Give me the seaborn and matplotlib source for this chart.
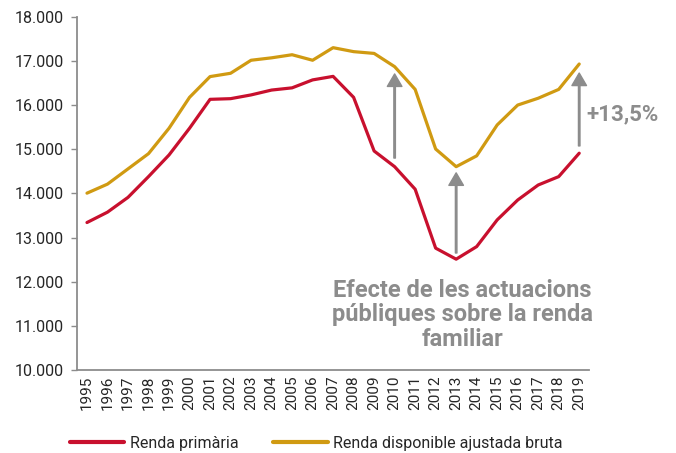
import pandas as pd
import numpy as np
import matplotlib
matplotlib.use('Agg')
import matplotlib.pyplot as plt
import seaborn as sns
from matplotlib.ticker import FuncFormatter, MultipleLocator

sns.set_style('white')
plt.rcParams['font.family'] = ['Roboto', 'DejaVu Sans']

years = list(range(1995, 2020))
renda_primaria = [13340, 13575, 13910, 14380, 14870, 15475, 16130, 16145, 16230, 16340,
                  16390, 16570, 16650, 16175, 14960, 14605, 14095, 12760, 12510, 12795,
                  13400, 13850, 14190, 14380, 14910]
renda_disponible = [14005, 14210, 14555, 14900, 15475, 16175, 16645, 16720, 17015, 17070,
                    17140, 17015, 17300, 17210, 17170, 16870, 16355, 15005, 14605, 14850,
                    15550, 16000, 16155, 16355, 16930]
series_names = ['Renda primària', 'Renda disponible ajustada bruta']
colors = ['#C8102E', '#D09A12']

# arrows: (year, from, to)
arrows = [(2010, 14800, 16705), (2013, 12650, 14465), (2019, 15075, 16725)]

df = pd.DataFrame({
    'any': years * 2,
    'valor': renda_primaria + renda_disponible,
    'serie': [series_names[0]] * len(years) + [series_names[1]] * len(years),
})

fig = plt.figure(figsize=(6.76, 4.53), dpi=100)
ax = fig.add_axes([0.1135, 0.1832, 0.7585, 0.7798])

sns.lineplot(data=df, x='any', y='valor', hue='serie', palette=colors, linewidth=2.3,
             ax=ax, legend=False)

grey = '#8C8C8C'
for x, y0, y1 in arrows:
    ax.annotate('', xy=(x, y1), xytext=(x, y0),
                arrowprops=dict(facecolor=grey, edgecolor=grey, width=1.1,
                                headwidth=10.5, headlength=9, shrink=0))

ax.text(2019.35, 15790, '+13,5%', color=grey, fontsize=16, fontweight='bold',
        ha='left', va='center')
ax.text(2013.3, 11250, 'Efecte de les actuacions\npúbliques sobre la renda\nfamiliar',
        color=grey, fontsize=17, fontweight='bold', ha='center', va='center',
        linespacing=1.08)

ax.set_xlim(1994.5, 2019.5)
ax.set_ylim(10000, 18000)
ax.set_xticks(years)
ax.set_xticklabels([str(y) for y in years], rotation=90)
ax.set_xticks(np.arange(1994.5, 2020, 1), minor=True)
ax.yaxis.set_major_locator(MultipleLocator(1000))
ax.yaxis.set_major_formatter(FuncFormatter(lambda v, p: f'{int(v):,}'.replace(',', '.')))
ax.tick_params(axis='x', which='major', length=0, labelsize=11, colors='#262626', pad=4)
ax.tick_params(axis='x', which='minor', length=5, width=1, color=grey, direction='out')
ax.tick_params(axis='y', length=4, width=1, color=grey, labelsize=11.5, labelcolor='#262626', pad=5,
               direction='out', left=True)
ax.set_xlabel('')
ax.set_ylabel('')
for s in ['top', 'right']:
    ax.spines[s].set_visible(False)
for s in ['left', 'bottom']:
    ax.spines[s].set_color(grey)
    ax.spines[s].set_linewidth(1.3)

handles = [plt.Line2D([], [], color=c, linewidth=3) for c in colors]
fig.legend(handles, series_names, loc='center left', bbox_to_anchor=(0.082, 0.022),
           ncol=2, frameon=False, fontsize=11.5, handlelength=3.4, handletextpad=0.35,
           columnspacing=2.2, labelcolor='#262626')

fig.savefig('out.png', dpi=100)
